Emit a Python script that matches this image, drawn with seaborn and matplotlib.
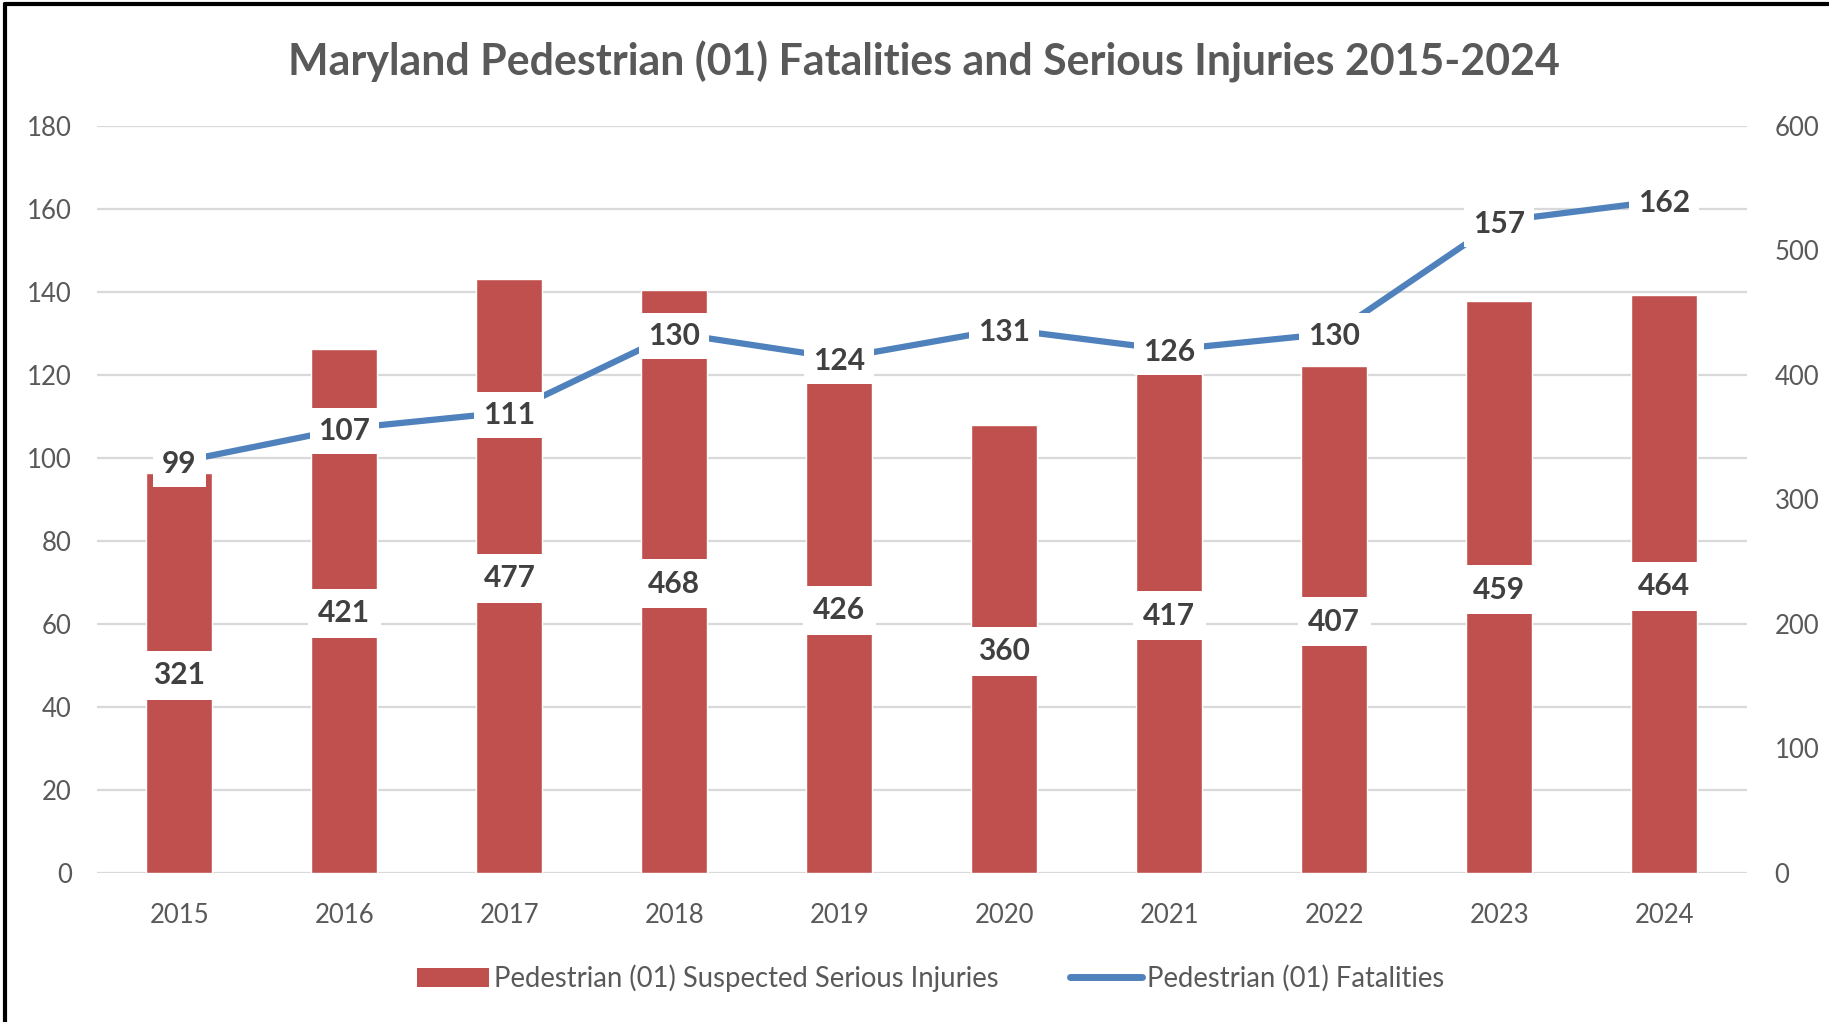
import numpy as np
import pandas as pd
import seaborn as sns
import matplotlib.pyplot as plt
from matplotlib.lines import Line2D
from matplotlib.patches import Patch

years = ['2015', '2016', '2017', '2018', '2019', '2020', '2021', '2022', '2023', '2024']
injuries = [321, 421, 477, 468, 426, 360, 417, 407, 459, 464]
fatalities = [99, 107, 111, 130, 124, 131, 126, 130, 157, 162]

left_ticks = [0, 20, 40, 60, 80, 100, 120, 140, 160, 180]
right_ticks = [0, 100, 200, 300, 400, 500, 600]

bar_color = '#C0504D'
line_color = '#4F81BD'
text_gray = '#595959'
label_dark = '#404040'

sns.set_theme(style='white')
plt.rcParams['font.family'] = ['Lato', 'DejaVu Sans']

df = pd.DataFrame({'Year': years, 'Injuries': injuries, 'Fatalities': fatalities})

fig = plt.figure(figsize=(18.29, 10.22), dpi=100)
ax = fig.add_axes([0.053, 0.146, 0.902, 0.731])

# background axis: left scale + gridlines
ax.set_ylim(0, 180)
ax.set_yticks(left_ticks)
ax.grid(axis='y', color='#d9d9d9', linewidth=1.6)
ax.set_axisbelow(True)
for s in ax.spines.values():
    s.set_visible(False)
ax.tick_params(axis='y', length=0, pad=18, labelsize=18.5, labelcolor=text_gray)

# bars on the secondary (right) scale
ax2 = ax.twinx()
sns.barplot(data=df, x='Year', y='Injuries', ax=ax2, color=bar_color,
            saturation=1, width=0.4, zorder=2)
ax2.set_ylim(0, 600)
ax2.set_yticks(right_ticks)
ax2.set_xlim(-0.5, 9.5)
ax2.tick_params(axis='y', length=0, pad=20, labelsize=18.5, labelcolor=text_gray)
ax2.set_xlabel('')
ax2.set_ylabel('')
for s in ax2.spines.values():
    s.set_visible(False)
for i, v in enumerate(df['Injuries']):
    ax2.text(i, v / 2, str(v), ha='center', va='center_baseline', fontsize=21.5,
             fontweight='bold', color=label_dark,
             bbox=dict(boxstyle='square,pad=0.35', fc='white', ec='none'))

# line on the primary (left) scale, drawn on top
ax3 = ax.twinx()
sns.lineplot(x=np.arange(len(years)), y=df['Fatalities'], ax=ax3,
             color=line_color, linewidth=4.5, zorder=3)
ax3.set_ylim(0, 180)
ax3.set_xlim(-0.5, 9.5)
ax3.set_yticks([])
ax3.set_ylabel('')
for s in ax3.spines.values():
    s.set_visible(False)
for i, v in enumerate(df['Fatalities']):
    ax3.text(i, v, str(v), ha='center', va='center_baseline', fontsize=21.5,
             fontweight='bold', color=label_dark, zorder=4,
             bbox=dict(boxstyle='square,pad=0.3', fc='white', ec='none'))

# year labels along the bottom (shared x axis is drawn by the base axis)
ax.tick_params(axis='x', length=0, pad=22, labelsize=18.5, labelcolor=text_gray)

fig.text(0.505, 0.939, 'Maryland Pedestrian (01) Fatalities and Serious Injuries 2015-2024',
         ha='center', va='center', fontsize=30.9, fontweight='bold', color=text_gray)

handles = [Patch(facecolor=bar_color, edgecolor='none'),
           Line2D([0], [0], color=line_color, linewidth=5)]
fig.legend(handles, ['Pedestrian (01) Suspected Serious Injuries', 'Pedestrian (01) Fatalities'],
           loc='center', bbox_to_anchor=(0.509, 0.043), ncol=2, frameon=False,
           fontsize=19.8, labelcolor=text_gray, handlelength=2.6, handleheight=0.7,
           handletextpad=0.2, columnspacing=2.6)

# black frame on top and left edges
fig.add_artist(Line2D([0.003, 1.0], [0.996, 0.996], color='black', linewidth=3,
                      transform=fig.transFigure))
fig.add_artist(Line2D([0.003, 0.003], [0.0, 0.996], color='black', linewidth=3,
                      transform=fig.transFigure))

fig.savefig('out.png', dpi=100)
